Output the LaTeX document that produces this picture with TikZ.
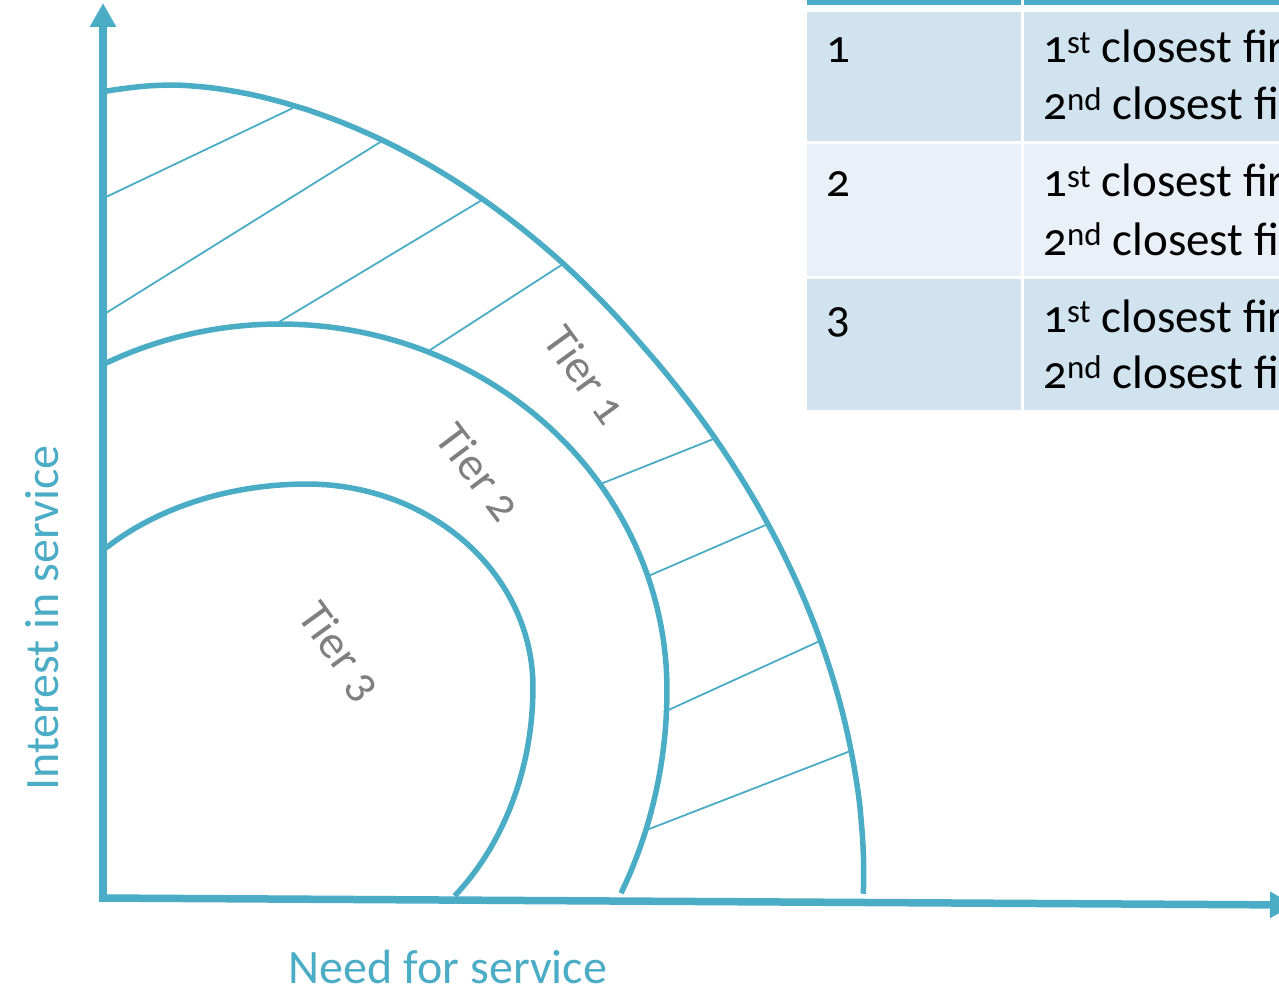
\documentclass[tikz,border=0pt]{standalone}
\usepackage{fontspec}
\setmainfont{Carlito}[Numbers=OldStyle]
\usetikzlibrary{arrows.meta}
\definecolor{aqua}{HTML}{4BACC6}
\definecolor{rowA}{HTML}{D0E3EE}
\definecolor{rowB}{HTML}{E9F0F7}
\definecolor{tiergray}{HTML}{7F7F7F}
\begin{document}
\begin{tikzpicture}[x=1pt,y=-1pt,
  axis/.style={draw=aqua,line width=7.5pt,-{Triangle[length=24pt,width=25pt]}},
  band/.style={draw=aqua,line width=5.5pt,line join=round},
  hatch/.style={draw=aqua,line width=1.8pt},
  tier/.style={text=tiergray,font=\fontsize{47}{52}\selectfont,inner sep=0},
  axlabel/.style={text=aqua,font=\fontsize{48}{56}\selectfont,inner sep=0},
  cell/.style={text=black,font=\fontsize{47}{58}\selectfont,anchor=base west,inner sep=0}]
\useasboundingbox (0,0) rectangle (1279,984);
\begin{scope}
\clip (0,0) rectangle (1279,984);
% table
\fill[aqua] (807,0) rectangle (1021,5);
\fill[aqua] (1024,0) rectangle (1285,5);
\fill[rowA] (807,12) rectangle (1021,141);
\fill[rowA] (1024,12) rectangle (1285,141);
\fill[rowB] (807,144) rectangle (1021,276);
\fill[rowB] (1024,144) rectangle (1285,276);
\fill[rowA] (807,279) rectangle (1021,410);
\fill[rowA] (1024,279) rectangle (1285,410);
\node[cell] (n1) at (826,63) {1};
\node[cell] (n2) at (826,197) {2};
\node[cell] (n3) at (826,332) {3};
\node[cell] (c1a) at (1043,63) {1\textsuperscript{st} closest fir};
\node[cell] (c1b) at (1043,120) {2\textsuperscript{nd} closest fi};
\node[cell] (c2a) at (1043,197) {1\textsuperscript{st} closest fir};
\node[cell] (c2b) at (1043,255) {2\textsuperscript{nd} closest fi};
\node[cell] (c3a) at (1043,332) {1\textsuperscript{st} closest fir};
\node[cell] (c3b) at (1043,388) {2\textsuperscript{nd} closest fi};
% hatch lines
\draw[hatch] (106,197) -- (293,108);
\draw[hatch] (106,313) -- (382,141);
\draw[hatch] (279,322) -- (482,200);
\draw[hatch] (430,350) -- (563,264);
\draw[hatch] (598,485) -- (716,438);
\draw[hatch] (646,577) -- (768,524);
\draw[hatch] (664,712) -- (822,640);
\draw[hatch] (644,831) -- (853,750);
% bands
\draw[band] plot[domain=96.8:0.5,samples=91,variable=\t]
  ({170+(693+8*sin(min(4*\t,180)))*cos(\t)*pow(abs(cos(\t))+0.00001,0.111)},{898-813*pow(sin(\t),1.111)});
\draw[band] plot[domain=116.7:-28.2,samples=91,variable=\t]
  ({280+387*cos(\t)},{690-sin(\t)*ifthenelse(\t>0,366,430)});
\draw[band] plot[domain=136.7:-49.2,samples=91,variable=\t]
  ({307+cos(\t)*ifthenelse(\t>90,276,226)},{687-sin(\t)*ifthenelse(\t>0,203,276)});
% axes
\coordinate (origin) at (103,901);
\coordinate (ytip) at (103,3);
\coordinate (xstart) at (99,898);
\coordinate (xtip) at (1294,905);
\draw[axis] (origin) -- (ytip);
\draw[axis] (xstart) -- (xtip);
% labels
\node[tier,rotate=-54] (t1) at (586,375) {Tier 1};
\node[tier,rotate=-53] (t2) at (479,472) {Tier 2};
\node[tier,rotate=-54] (t3) at (339,652) {Tier 3};
\node[axlabel,anchor=base] (xl) at (448,983) {Need for service};
\node[axlabel,anchor=base,rotate=90] (yl) at (58,618) {Interest in service};
\end{scope}
\end{tikzpicture}
\end{document}
